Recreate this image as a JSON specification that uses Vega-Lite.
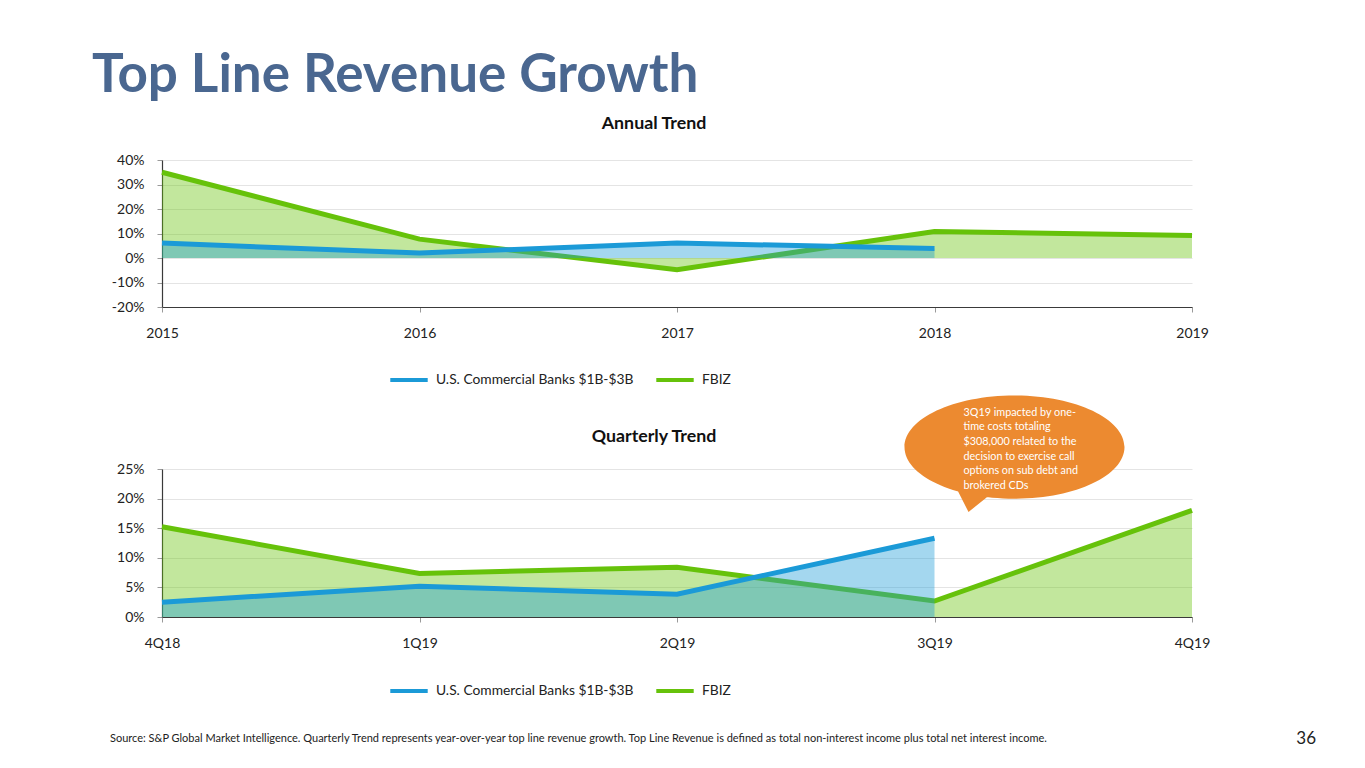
{
  "$schema": "https://vega.github.io/schema/vega-lite/v6.json",
  "background": "white",
  "padding": {"left": 92, "top": 50, "right": 20, "bottom": 0},
  "title": {"text": "Top Line Revenue Growth", "anchor": "start", "font": "Lato", "fontSize": 53, "fontWeight": "bold", "color": "#4a6790", "offset": 12, "dx": -18},
  "config": {
    "font": "Lato",
    "view": {"stroke": null},
    "axis": {"labelFont": "Lato", "labelFontSize": 14, "labelColor": "#222222", "gridColor": "#e4e4e4", "domainColor": "#3a3a3a", "domainWidth": 1.2, "tickColor": "#9a9a9a", "title": null},
    "legend": {"orient": "none", "legendX": 226, "legendY": 199, "direction": "horizontal", "symbolType": "stroke", "symbolStrokeWidth": 4, "symbolSize": 1400, "symbolOpacity": 1, "labelFont": "Lato", "labelFontSize": 13.8, "labelColor": "#222222", "labelOffset": 6, "labelLimit": 0, "columnPadding": 14, "title": null},
    "title": {"font": "Lato", "fontSize": 17.8, "fontWeight": "bold", "color": "#111111", "offset": 20}
  },
  "datasets": {
    "annual": [
      {"year": "2015", "series": "FBIZ", "value": 0.350},
      {"year": "2016", "series": "FBIZ", "value": 0.077},
      {"year": "2017", "series": "FBIZ", "value": -0.048},
      {"year": "2018", "series": "FBIZ", "value": 0.108},
      {"year": "2019", "series": "FBIZ", "value": 0.092},
      {"year": "2015", "series": "U.S. Commercial Banks $1B-$3B", "value": 0.061},
      {"year": "2016", "series": "U.S. Commercial Banks $1B-$3B", "value": 0.020},
      {"year": "2017", "series": "U.S. Commercial Banks $1B-$3B", "value": 0.061},
      {"year": "2018", "series": "U.S. Commercial Banks $1B-$3B", "value": 0.039}
    ],
    "quarterly": [
      {"quarter": "4Q18", "series": "FBIZ", "value": 0.1525},
      {"quarter": "1Q19", "series": "FBIZ", "value": 0.0735},
      {"quarter": "2Q19", "series": "FBIZ", "value": 0.084},
      {"quarter": "3Q19", "series": "FBIZ", "value": 0.027},
      {"quarter": "4Q19", "series": "FBIZ", "value": 0.180},
      {"quarter": "4Q18", "series": "U.S. Commercial Banks $1B-$3B", "value": 0.025},
      {"quarter": "1Q19", "series": "U.S. Commercial Banks $1B-$3B", "value": 0.052},
      {"quarter": "2Q19", "series": "U.S. Commercial Banks $1B-$3B", "value": 0.0385},
      {"quarter": "3Q19", "series": "U.S. Commercial Banks $1B-$3B", "value": 0.133}
    ],
    "callout": [
      {"quarter": "3Q19", "note": "3Q19 impacted by one-\ntime costs totaling\n$308,000 related to the\ndecision to exercise call\noptions on sub debt and\nbrokered CDs"}
    ],
    "footer": [
      {"label": "Source: S&P Global Market Intelligence. Quarterly Trend represents year-over-year top line revenue growth. Top Line Revenue is defined as total non-interest income plus total net interest income.", "pos": 0, "side": "left"},
      {"label": "36", "pos": 1, "side": "right"}
    ]
  },
  "resolve": {"scale": {"x": "independent", "y": "independent", "color": "independent"}},
  "spacing": 7,
  "vconcat": [
    {
      "title": {"text": "Annual Trend", "dx": -23},
      "width": 1030,
      "height": 147,
      "data": {"name": "annual"},
      "encoding": {
        "x": {"field": "year", "type": "ordinal", "scale": {"type": "point", "padding": 0}, "axis": {"labelAngle": 0, "tickSize": 5, "labelPadding": 14, "grid": false}},
        "y": {"field": "value", "type": "quantitative", "scale": {"domain": [-0.2, 0.4], "nice": false}, "axis": {"values": [-0.2, -0.1, 0, 0.1, 0.2, 0.3, 0.4], "labelExpr": "(datum.value < 0 ? '-' : '') + format(abs(datum.value), '.0%')", "tickSize": 5, "labelPadding": 13, "grid": true}}
      },
      "layer": [
        {"transform": [{"filter": "datum.series == 'FBIZ'"}], "mark": {"type": "area", "color": "#66c20a", "opacity": 0.4}},
        {"transform": [{"filter": "datum.series == 'FBIZ'"}], "mark": {"type": "line", "strokeWidth": 5},
         "encoding": {"color": {"field": "series", "type": "nominal", "scale": {"domain": ["U.S. Commercial Banks $1B-$3B", "FBIZ"], "range": ["#1b9ad7", "#66c20a"]}}}},
        {"transform": [{"filter": "datum.series != 'FBIZ'"}], "mark": {"type": "area", "color": "#1b9ad7", "opacity": 0.4}},
        {"transform": [{"filter": "datum.series != 'FBIZ'"}], "mark": {"type": "line", "strokeWidth": 5},
         "encoding": {"color": {"field": "series", "type": "nominal", "scale": {"domain": ["U.S. Commercial Banks $1B-$3B", "FBIZ"], "range": ["#1b9ad7", "#66c20a"]}}}}
      ]
    },
    {
      "title": {"text": "Quarterly Trend", "dx": -23, "offset": -50},
      "width": 1030,
      "height": 148,
      "encoding": {
        "x": {"field": "quarter", "type": "ordinal", "sort": ["4Q18", "1Q19", "2Q19", "3Q19", "4Q19"], "scale": {"type": "point", "padding": 0, "domain": ["4Q18", "1Q19", "2Q19", "3Q19", "4Q19"]}, "axis": {"labelAngle": 0, "tickSize": 5, "labelPadding": 14, "grid": false}}
      },
      "layer": [
        {"data": {"name": "quarterly"}, "transform": [{"filter": "datum.series == 'FBIZ'"}], "mark": {"type": "area", "color": "#66c20a", "opacity": 0.4},
         "encoding": {"y": {"field": "value", "type": "quantitative", "scale": {"domain": [0, 0.25], "nice": false}, "axis": {"values": [0, 0.05, 0.1, 0.15, 0.2, 0.25], "format": ".0%", "tickSize": 5, "labelPadding": 13, "grid": true}}}},
        {"data": {"name": "quarterly"}, "transform": [{"filter": "datum.series == 'FBIZ'"}], "mark": {"type": "line", "strokeWidth": 5},
         "encoding": {"y": {"field": "value", "type": "quantitative", "scale": {"domain": [0, 0.25], "nice": false}, "axis": {"values": [0, 0.05, 0.1, 0.15, 0.2, 0.25], "format": ".0%", "tickSize": 5, "labelPadding": 13, "grid": true}},
           "color": {"field": "series", "type": "nominal", "scale": {"domain": ["U.S. Commercial Banks $1B-$3B", "FBIZ"], "range": ["#1b9ad7", "#66c20a"]}, "legend": {"legendY": 201}}}},
        {"data": {"name": "quarterly"}, "transform": [{"filter": "datum.series != 'FBIZ'"}], "mark": {"type": "area", "color": "#1b9ad7", "opacity": 0.4},
         "encoding": {"y": {"field": "value", "type": "quantitative", "scale": {"domain": [0, 0.25], "nice": false}, "axis": {"values": [0, 0.05, 0.1, 0.15, 0.2, 0.25], "format": ".0%", "tickSize": 5, "labelPadding": 13, "grid": true}}}},
        {"data": {"name": "quarterly"}, "transform": [{"filter": "datum.series != 'FBIZ'"}], "mark": {"type": "line", "strokeWidth": 5},
         "encoding": {"y": {"field": "value", "type": "quantitative", "scale": {"domain": [0, 0.25], "nice": false}, "axis": {"values": [0, 0.05, 0.1, 0.15, 0.2, 0.25], "format": ".0%", "tickSize": 5, "labelPadding": 13, "grid": true}},
           "color": {"field": "series", "type": "nominal", "scale": {"domain": ["U.S. Commercial Banks $1B-$3B", "FBIZ"], "range": ["#1b9ad7", "#66c20a"]}, "legend": {"legendY": 201}}}},
        {"data": {"name": "callout"}, "mark": {"type": "point", "filled": true, "opacity": 1, "color": "#ec8a30", "size": 48400, "xOffset": 80, "clip": false,
           "shape": "M 1 0 C 1 0.26 0.552 0.47 0 0.47 C -0.552 0.47 -1 0.26 -1 0 C -1 -0.26 -0.552 -0.47 0 -0.47 C 0.552 -0.47 1 -0.26 1 0 Z M -0.22 0.43 L -0.418 0.59 L -0.53 0.37 Z"},
         "encoding": {"y": {"datum": 0.287, "type": "quantitative", "scale": {"domain": [0, 0.25], "nice": false}, "axis": {"values": [0, 0.05, 0.1, 0.15, 0.2, 0.25], "format": ".0%", "tickSize": 5, "labelPadding": 13, "grid": true}}}},
        {"data": {"name": "callout"}, "mark": {"type": "text", "align": "left", "baseline": "alphabetic", "dx": 29, "lineBreak": "\n", "lineHeight": 14.6, "fontSize": 10.8, "color": "#ffffff", "font": "Lato"},
         "encoding": {"y": {"datum": 0.34, "type": "quantitative", "scale": {"domain": [0, 0.25], "nice": false}, "axis": {"values": [0, 0.05, 0.1, 0.15, 0.2, 0.25], "format": ".0%", "tickSize": 5, "labelPadding": 13, "grid": true}}, "text": {"field": "note"}}}
      ]
    },
    {
      "width": 1030,
      "height": 66,
      "data": {"name": "footer"},
      "encoding": {"x": {"field": "pos", "type": "quantitative", "scale": {"domain": [0, 1]}, "axis": null}},
      "layer": [
        {"transform": [{"filter": "datum.side == 'left'"}], "mark": {"type": "text", "align": "left", "dx": -52, "fontSize": 11, "color": "#222222", "font": "Lato"}, "encoding": {"text": {"field": "label"}}},
        {"transform": [{"filter": "datum.side == 'right'"}], "mark": {"type": "text", "align": "right", "dx": 124, "fontSize": 17, "color": "#222222", "font": "Lato"}, "encoding": {"text": {"field": "label"}}}
      ]
    }
  ]
}
